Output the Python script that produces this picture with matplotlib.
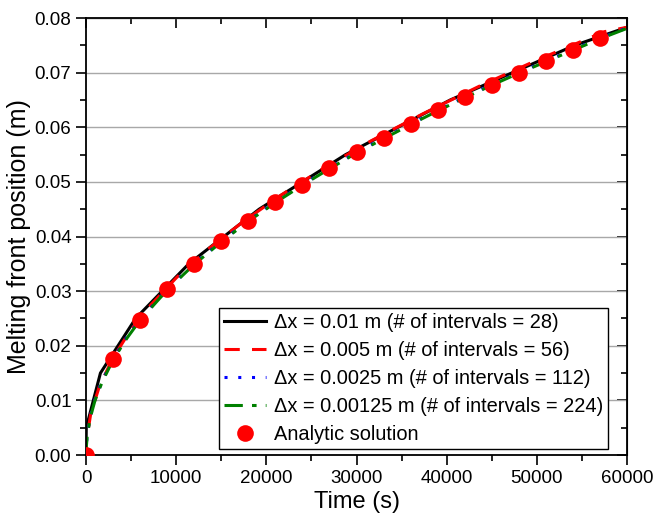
import matplotlib
matplotlib.use("Agg")
import matplotlib.pyplot as plt
from matplotlib.ticker import MultipleLocator, FormatStrFormatter

plt.rcParams['font.family'] = ['Liberation Sans', 'DejaVu Sans']

# numerical solutions (t in s, front in m)
t_01 = [0, 30, 1600, 5500, 11400, 19200, 28800, 40400, 54200, 60000]
s_01 = [0, 0.0050, 0.0150, 0.0250, 0.0350, 0.0450, 0.0550, 0.0650, 0.0750, 0.0783]

t_005 = [0, 40, 520, 1470, 2900, 4800, 7200, 10050, 13400, 17250, 21550, 26350,
         31600, 37400, 43600, 50300, 57500, 60000]
s_005 = [0, 0.0025, 0.0075, 0.0125, 0.0175, 0.0225, 0.0275, 0.0325, 0.0375,
         0.0425, 0.0475, 0.0525, 0.0575, 0.0625, 0.0675, 0.0725, 0.0775, 0.0783]

t_0025 = [0, 20, 150, 500, 1000, 1800, 3000, 4500, 6000, 9000, 12000, 15000,
          18000, 21000, 24000, 27000, 30000, 33000, 36000, 39000, 42000, 45000,
          48000, 51000, 54000, 57000, 60000]
s_0025 = [0, 0.0015, 0.0040, 0.0072, 0.0102, 0.0136, 0.0176, 0.0215, 0.0248,
          0.0303, 0.0350, 0.0391, 0.0429, 0.0463, 0.0495, 0.0525, 0.0554,
          0.0580, 0.0606, 0.0631, 0.0655, 0.0678, 0.0700, 0.0721, 0.0742,
          0.0763, 0.0782]

t_00125 = [0, 20, 150, 500, 1000, 1800, 3000, 4500, 6000, 9000, 12000, 15000,
           18000, 21000, 24000, 27000, 30000, 33000, 36000, 39000, 42000, 45000,
           48000, 51000, 54000, 57000, 60000]
s_00125 = [0, 0.0012, 0.0038, 0.0070, 0.0100, 0.0134, 0.0174, 0.0213, 0.0247,
           0.0302, 0.0349, 0.0390, 0.0428, 0.0462, 0.0494, 0.0524, 0.0553,
           0.0579, 0.0605, 0.0630, 0.0654, 0.0677, 0.0699, 0.0720, 0.0741,
           0.0762, 0.0781]

# analytic solution
t_an = [0, 3000, 6000, 9000, 12000, 15000, 18000, 21000, 24000, 27000, 30000,
        33000, 36000, 39000, 42000, 45000, 48000, 51000, 54000, 57000]
s_an = [0, 0.0175, 0.0248, 0.0303, 0.0350, 0.0391, 0.0429, 0.0463, 0.0495,
        0.0525, 0.0554, 0.0580, 0.0606, 0.0631, 0.0655, 0.0678, 0.0700,
        0.0721, 0.0742, 0.0763]

labels = ["\u0394x = 0.01 m (# of intervals = 28)",
          "\u0394x = 0.005 m (# of intervals = 56)",
          "\u0394x = 0.0025 m (# of intervals = 112)",
          "\u0394x = 0.00125 m (# of intervals = 224)",
          "Analytic solution"]

fig = plt.figure(figsize=(6.53, 5.25), dpi=100)
ax = fig.add_axes([0.1317, 0.1333, 0.8285, 0.8324])

ax.plot(t_01, s_01, color='black', lw=2.2, label=labels[0])
ax.plot(t_005, s_005, color='red', lw=2.2, ls=(0, (5, 4)), label=labels[1])
ax.plot(t_0025, s_0025, color='blue', lw=2.2, ls=(0, (1, 3.5)), label=labels[2])
ax.plot(t_00125, s_00125, color='green', lw=2.2, ls=(0, (6, 3, 1.5, 3)), label=labels[3])
ax.plot(t_an, s_an, 'o', color='red', ms=12, mec='none', label=labels[4], zorder=5)

ax.set_xlim(0, 60000)
ax.set_ylim(0, 0.08)
ax.xaxis.set_major_locator(MultipleLocator(10000))
ax.xaxis.set_minor_locator(MultipleLocator(5000))
ax.yaxis.set_major_locator(MultipleLocator(0.01))
ax.yaxis.set_minor_locator(MultipleLocator(0.005))
ax.yaxis.set_major_formatter(FormatStrFormatter('%.2f'))
ax.grid(axis='y', which='major', color='#a8a8a8', lw=1)
ax.set_axisbelow(True)

for sp in ax.spines.values():
    sp.set_linewidth(1.3)
ax.tick_params(which='major', direction='out', length=7, width=1.2, labelsize=13.5)
ax.tick_params(which='minor', direction='out', length=4, width=1.2)

# inward ticks on top and right
top = ax.secondary_xaxis('top')
top.xaxis.set_major_locator(MultipleLocator(10000))
top.xaxis.set_minor_locator(MultipleLocator(5000))
top.tick_params(which='major', direction='in', length=7, width=1.2, labeltop=False)
top.tick_params(which='minor', direction='in', length=4, width=1.2)
right = ax.secondary_yaxis('right')
right.yaxis.set_major_locator(MultipleLocator(0.01))
right.yaxis.set_minor_locator(MultipleLocator(0.005))
right.tick_params(which='major', direction='in', length=7, width=1.2, labelright=False)
right.tick_params(which='minor', direction='in', length=4, width=1.2)

ax.set_xlabel("Time (s)", fontsize=17, labelpad=3)
ax.set_ylabel("Melting front position (m)", fontsize=18, labelpad=3)

leg = ax.legend(loc='lower right', bbox_to_anchor=(0.965, 0.014), fontsize=14.4,
                frameon=True, fancybox=False, edgecolor='black', framealpha=1,
                handlelength=2.1, borderaxespad=0, labelspacing=0.45,
                handletextpad=0.4, borderpad=0.25)
leg.get_frame().set_linewidth(1.0)

fig.savefig("out.png", dpi=100)
